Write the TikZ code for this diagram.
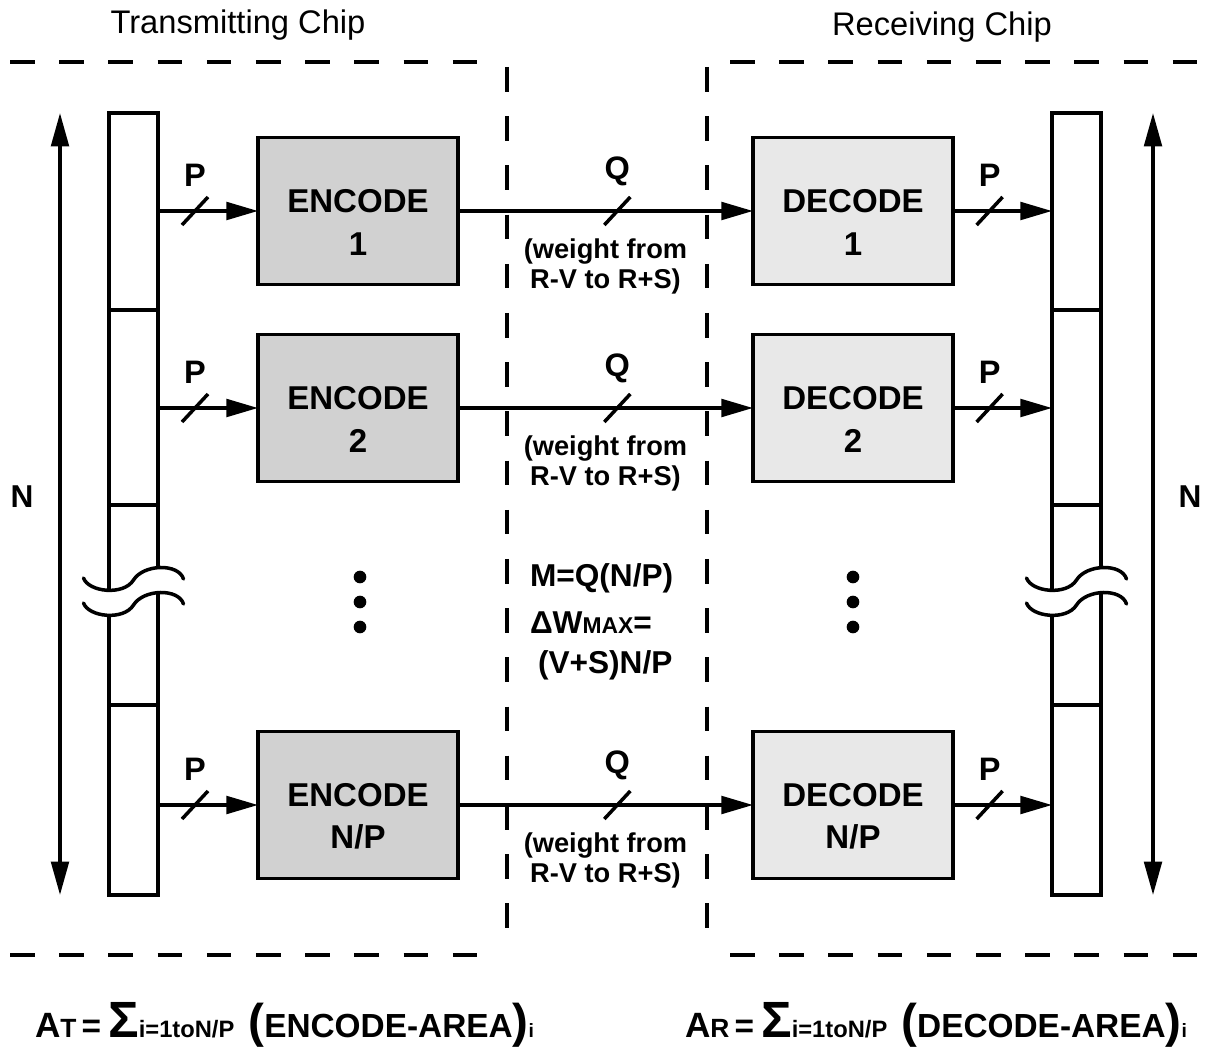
\documentclass[tikz,border=0pt]{standalone}
\usepackage{fontspec}
\setmainfont{Liberation Sans}
\usetikzlibrary{arrows.meta, positioning, calc}

\begin{document}
\begin{tikzpicture}[x=0.02cm, y=-0.02cm,
    every node/.style={inner sep=0pt, outer sep=0pt},
    blockbox/.style={draw, line width=2.2pt, minimum width=4cm, minimum height=2.94cm, align=center, font=\fontsize{18.8}{24.4}\bfseries\selectfont},
    encbox/.style={blockbox, fill=black!18},
    decbox/.style={blockbox, fill=black!9},
    busbox/.style={draw, line width=2pt, minimum width=0.98cm, minimum height=15.64cm},
    busline/.style={line width=2pt},
    chipline/.style={line width=2pt, dash pattern=on 14pt off 14pt},
    sig/.style={line width=2pt, -{Triangle[length=18pt, width=10pt]}},
    dim/.style={line width=2pt, {Triangle[length=19pt, width=10pt]}-{Triangle[length=19pt, width=10pt]}},
    slash/.style={line width=2pt},
    lbl/.style={font=\fontsize{18.5}{20}\bfseries\selectfont},
    note/.style={font=\fontsize{15.5}{17}\bfseries\selectfont, align=center},
    midtext/.style={font=\fontsize{18}{22}\bfseries\selectfont}
]
    \useasboundingbox (0,0) rectangle (1206,1050);

    % Chip borders
    \draw[chipline] (10,62) -- (485,62);
    \draw[chipline] (507,67) -- (507,935);
    \draw[chipline] (10,955) -- (485,955);
    \draw[chipline] (730,62) -- (1200,62);
    \draw[chipline] (707,67) -- (707,935);
    \draw[chipline] (730,955) -- (1200,955);

    % Titles
    \node[font=\fontsize{18.6}{22}\selectfont] (txtitle) at (238,25) {Transmitting Chip};
    \node[font=\fontsize{18.6}{22}\selectfont] (rxtitle) at (942,27) {Receiving Chip};

    % Buses
    \node[busbox] (txbus) at (133.5,504) {};
    \node[busbox] (rxbus) at (1076.5,504) {};
    \foreach \y in {310,505,705} {
        \draw[busline] (txbus.west |- 0,\y) -- (txbus.east |- 0,\y);
        \draw[busline] (rxbus.west |- 0,\y) -- (rxbus.east |- 0,\y);
    }
    \foreach \cx in {133.5,1076.5} {
        \begin{scope}[shift={(\cx,0)}]
            \fill[white] (-50,578) .. controls (-45,592) and (-10,596) .. (0,580) .. controls (10,564) and (45,563) .. (50,579)
                -- (50,604) .. controls (45,588) and (10,589) .. (0,605) .. controls (-10,621) and (-45,617) .. (-50,603) -- cycle;
            \draw[busline, line cap=round] (-50,578) .. controls (-45,592) and (-10,596) .. (0,580) .. controls (10,564) and (45,563) .. (50,579);
            \draw[busline, line cap=round] (-50,603) .. controls (-45,617) and (-10,621) .. (0,605) .. controls (10,589) and (45,588) .. (50,604);
        \end{scope}
    }

    % N arrows
    \coordinate (ntxtop) at (60,113);
    \coordinate (ntxbot) at (60,895);
    \coordinate (nrxtop) at (1153,113);
    \coordinate (nrxbot) at (1153,895);
    \draw[dim] (ntxtop) -- (ntxbot);
    \draw[dim] (nrxtop) -- (nrxbot);
    \node[midtext] (ntx) at (22,497) {N};
    \node[midtext] (nrx) at (1190,497) {N};

    % Encode / decode rows
    \foreach \r/\y/\t in {1/211/1, 2/408/2, 3/805/{N/P}} {
        \node[encbox] (enc\r) at (358,\y) {\rule{0pt}{26pt}ENCODE\\\t};
        \node[decbox] (dec\r) at (853,\y) {\rule{0pt}{26pt}DECODE\\\t};

        \draw[sig] (txbus.east |- enc\r) -- coordinate[pos=0.37] (pa\r) (enc\r.west);
        \draw[sig] (enc\r.east) -- coordinate[pos=0.54] (qa\r) (dec\r.west)
            node[pos=0.5, note, below=16pt] (wt\r) {(weight from\\R-V to R+S)};
        \draw[sig] (dec\r.east) -- coordinate[pos=0.37] (pb\r) (rxbus.west |- dec\r);

        \foreach \c in {pa\r, qa\r, pb\r}
            \draw[slash] ($(\c)+(-13,14)$) -- ($(\c)+(13,-14)$);

        \node[lbl, above=0.5cm of pa\r] (plbla\r) {P};
        \node[lbl, above=0.5cm of qa\r] (qlbl\r) {Q};
        \node[lbl, above=0.5cm of pb\r] (plblb\r) {P};
    }

    % Dots
    \foreach \x in {360,853}
        \foreach \y in {577,602,627}
            \fill (\x,\y) circle[radius=3.6pt];

    % Middle notes
    \node[midtext, anchor=west] (meq) at (530,578) {M=Q(N/P)};
    \node[midtext, anchor=west] (dwmax) at (530,623) {{\fontsize{18}{20}\selectfont Δ}W{\fontsize{13}{16}\selectfont MAX}=};
    \node[midtext, anchor=west] (vsnp) at (538,665) {(V+S)N/P};

    % Area formulas
    \node[anchor=base west, font=\bfseries] (atx) at (35,1037) {%
        {\fontsize{20}{22}\selectfont A}{\fontsize{15}{18}\selectfont T}\hspace{3pt}{\fontsize{19}{22}\selectfont =}\hspace{4pt}%
        {\fontsize{29}{30}\selectfont Σ}{\fontsize{13.5}{14}\selectfont i=1toN/P}\hspace{8pt}%
        {\fontsize{27}{28}\selectfont (}{\fontsize{19}{22}\selectfont ENCODE-AREA}{\fontsize{27}{28}\selectfont )}{\fontsize{11}{12}\selectfont i}};
    \node[anchor=base west, font=\bfseries] (arx) at (685,1037) {%
        {\fontsize{20}{22}\selectfont A}{\fontsize{15}{18}\selectfont R}\hspace{3pt}{\fontsize{19}{22}\selectfont =}\hspace{4pt}%
        {\fontsize{29}{30}\selectfont Σ}{\fontsize{13.5}{14}\selectfont i=1toN/P}\hspace{8pt}%
        {\fontsize{27}{28}\selectfont (}{\fontsize{19}{22}\selectfont DECODE-AREA}{\fontsize{27}{28}\selectfont )}{\fontsize{11}{12}\selectfont i}};
\end{tikzpicture}
\end{document}
